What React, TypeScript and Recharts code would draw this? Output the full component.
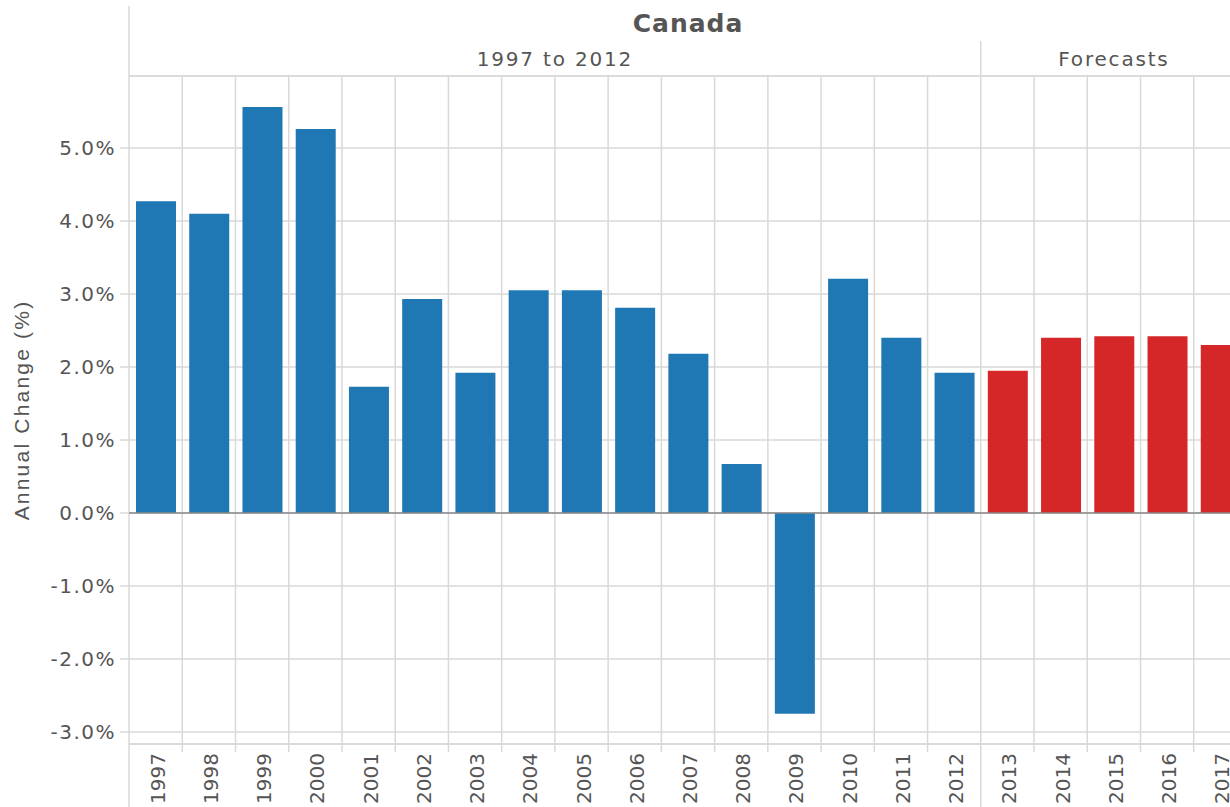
import {
  Bar,
  BarChart,
  CartesianGrid,
  Cell,
  ReferenceArea,
  ReferenceLine,
  XAxis,
  YAxis,
} from "recharts";

const TITLE = "Canada";
const YEARS = [
  "1997", "1998", "1999", "2000", "2001", "2002", "2003", "2004", "2005", "2006", "2007",
  "2008", "2009", "2010", "2011", "2012", "2013", "2014", "2015", "2016", "2017",
];
const ANNUAL_CHANGE = [
  4.27, 4.1, 5.56, 5.26, 1.73, 2.93, 1.92, 3.05, 3.05, 2.81, 2.18,
  0.67, -2.75, 3.21, 2.4, 1.92, 1.95, 2.4, 2.42, 2.42, 2.3,
];
const FORECAST_FROM = "2013";
const SECTIONS = [
  { label: "1997 to 2012", first: "1997", last: "2012" },
  { label: "Forecasts", first: "2013", last: "2017" },
];
const Y_TICKS = [-3, -2, -1, 0, 1, 2, 3, 4, 5];

const BLUE = "#1f77b4";
const RED = "#d62728";
const GRID = "#d9d9d9";
const TEXT = "#555555";
const FONT = "DejaVu Sans";

// plot box in page pixels, the chart runs past the right edge of the window
const CHART_W = 1260;
const CHART_H = 807;
const PLOT_TOP = 76;
const PLOT_BOTTOM = 744;
const Y_MIN = -3.164;
const Y_MAX = 5.986;
const PX = (Y_MAX - Y_MIN) / (PLOT_BOTTOM - PLOT_TOP);
const atPx = (py: number) => Y_MAX - (py - PLOT_TOP) * PX;

const data = YEARS.map((year, i) => ({
  year,
  value: ANNUAL_CHANGE[i],
  forecast: Number(year) >= Number(FORECAST_FROM),
}));

function YearTick({ x, y, payload }: any) {
  return (
    <text
      x={x}
      y={y}
      dy={2}
      transform={`rotate(-90 ${x} ${y})`}
      textAnchor="end"
      dominantBaseline="central"
      fill={TEXT}
      fontSize={20}
      fontFamily={FONT}
    >
      {payload.value}
    </text>
  );
}

const headerLabel = (value: string, bold = false) => ({
  value,
  position: "center" as const,
  fill: TEXT,
  fontSize: bold ? 25 : 20,
  fontWeight: bold ? 700 : 400,
  fontFamily: FONT,
  letterSpacing: bold ? 1 : 1.8,
});

// vertical rule at the left edge of a year's band
function Divider({ year, from, to }: { year: string; from: number; to: number }) {
  return (
    <ReferenceLine
      ifOverflow="visible"
      position="start"
      stroke={GRID}
      strokeWidth={1.5}
      segment={[
        { x: year, y: from },
        { x: year, y: to },
      ]}
    />
  );
}

export default function App() {
  return (
    <div
      style={{
        position: "absolute",
        top: 0,
        left: 0,
        width: 1230,
        height: 807,
        overflow: "hidden",
        background: "#fff",
      }}
    >
      <BarChart
        width={CHART_W}
        height={CHART_H}
        data={data}
        margin={{ top: PLOT_TOP, right: 13, left: 0, bottom: 0 }}
      >
        <CartesianGrid vertical={false} stroke={GRID} strokeWidth={1.5} />
        <XAxis
          dataKey="year"
          height={CHART_H - PLOT_BOTTOM}
          axisLine={false}
          tickLine={false}
          tickSize={0}
          tickMargin={9}
          interval={0}
          tick={<YearTick />}
        />
        <YAxis
          width={129}
          domain={[Y_MIN, Y_MAX]}
          allowDataOverflow
          ticks={Y_TICKS}
          axisLine={false}
          tickSize={9}
          tickMargin={4}
          tickLine={{ stroke: GRID, strokeWidth: 1.5 }}
          tick={{ fill: TEXT, fontSize: 20, fontFamily: FONT, letterSpacing: 1.5 }}
          tickFormatter={(v: number) => `${v.toFixed(1)}%`}
          label={{
            value: "Annual Change (%)",
            angle: -90,
            position: "insideLeft",
            offset: 22,
            fill: TEXT,
            fontSize: 21,
            fontFamily: "Liberation Sans",
            letterSpacing: 2.2,
            style: { textAnchor: "middle" },
          }}
        />

        {/* header rule and bottom rule */}
        <ReferenceLine y={Y_MAX} stroke={GRID} strokeWidth={1.5} />
        <ReferenceLine y={Y_MIN} stroke={GRID} strokeWidth={1.5} />

        {/* left edge runs the full height */}
        {Divider({ year: YEARS[0], from: atPx(6), to: atPx(CHART_H) })}

        {/* band dividers; the forecast split runs through header and labels */}
        {YEARS.slice(1).map((year) =>
          year === FORECAST_FROM
            ? <Divider key={year} year={year} from={atPx(41)} to={atPx(CHART_H)} />
            : <Divider key={year} year={year} from={Y_MAX} to={atPx(PLOT_BOTTOM + 8)} />
        )}

        <ReferenceArea
          ifOverflow="visible"
          x1={YEARS[0]}
          x2={YEARS[YEARS.length - 1]}
          y1={atPx(41)}
          y2={atPx(6)}
          fill="none"
          stroke="none"
          label={headerLabel(TITLE, true)}
        />
        {SECTIONS.map((s) => (
          <ReferenceArea
            key={s.label}
            ifOverflow="visible"
            x1={s.first}
            x2={s.last}
            y1={Y_MAX}
            y2={atPx(41)}
            fill="none"
            stroke="none"
            label={headerLabel(s.label)}
          />
        ))}

        <ReferenceLine y={0} stroke="#888888" strokeWidth={1.5} />

        <Bar dataKey="value" barSize={40} isAnimationActive={false}>
          {data.map((d) => (
            <Cell key={d.year} fill={d.forecast ? RED : BLUE} />
          ))}
        </Bar>
      </BarChart>
    </div>
  );
}
